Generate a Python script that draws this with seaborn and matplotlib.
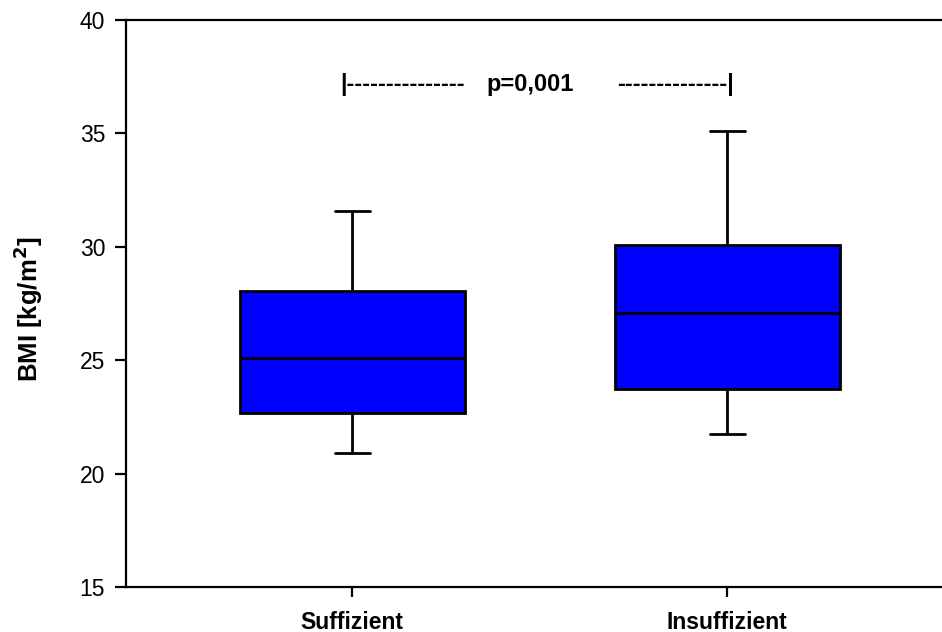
import matplotlib
matplotlib.use("Agg")
import matplotlib.pyplot as plt
import seaborn as sns
import pandas as pd

# Data (whisker low, Q1, median, Q3, whisker high)
categories = ["Suffizient", "Insuffizient"]
suffizient_vals = [20.9, 22.67, 25.08, 28.05, 31.6]
insuffizient_vals = [21.75, 23.73, 27.08, 30.08, 35.1]
y_ticks = [15, 20, 25, 30, 35, 40]
annotation = "p=0,001"

sns.set_theme(style="ticks")
plt.rcParams['font.family'] = ['Liberation Sans', 'DejaVu Sans']
plt.rcParams['text.color'] = 'black'
plt.rcParams['axes.labelcolor'] = 'black'

df = pd.DataFrame({
    "group": [categories[0]] * len(suffizient_vals) + [categories[1]] * len(insuffizient_vals),
    "BMI": suffizient_vals + insuffizient_vals,
})

fig = plt.figure(figsize=(9.42, 6.32), dpi=100)
ax = fig.add_axes([126 / 942, 45 / 632, 1 - 126 / 942, (587 - 20) / 632])

sns.boxplot(data=df, x="group", y="BMI", order=categories, ax=ax,
            color="#0000ff", saturation=1, width=0.6, whis=(0, 100),
            linewidth=2, linecolor="black",
            boxprops=dict(facecolor="#0000ff", edgecolor="black", linewidth=2),
            whiskerprops=dict(color="black", linewidth=2),
            capprops=dict(color="black", linewidth=2),
            medianprops=dict(color="black", linewidth=2),
            showfliers=False)

# cap width adjustment
for line in ax.lines:
    xd = line.get_xdata()
    if len(xd) == 2 and abs(xd[1] - xd[0]) > 0.01 and abs(xd[1] - xd[0]) < 0.4:
        c = (xd[0] + xd[1]) / 2
        line.set_xdata([c - 0.047, c + 0.047])

ax.set_xlim(-0.603, 1.573)
ax.set_ylim(15, 40)
ax.set_yticks(y_ticks)
ax.set_yticklabels([str(t) for t in y_ticks], fontsize=16.5)
ax.set_xticks([0, 1])
ax.set_xticklabels(categories, fontsize=16.5, fontweight="bold")
ax.set_xlabel("")
ax.set_ylabel("BMI [kg/m$^\\mathbf{2}$]", fontsize=18.5, fontweight="bold", color="black")
ax.yaxis.set_label_coords(-0.099, 0.49)

for s in ["left", "top", "bottom"]:
    ax.spines[s].set_linewidth(1.6)
    ax.spines[s].set_color("black")
ax.spines["right"].set_visible(False)
ax.tick_params(axis="y", length=8, width=1.6, direction="out", pad=7, colors="black")
ax.tick_params(axis="x", length=7, width=1.6, direction="out", pad=10, colors="black")

ax.text(-0.031, 37.15, "|---------------", fontsize=17, fontweight="heavy",
        ha="left", va="center", color="black")
ax.text(0.475, 37.15, annotation, fontsize=17, fontweight="bold",
        ha="center", va="center", color="black")
ax.text(1.018, 37.15, "--------------|", fontsize=17, fontweight="heavy",
        ha="right", va="center", color="black")

fig.savefig("out.png", dpi=100)
